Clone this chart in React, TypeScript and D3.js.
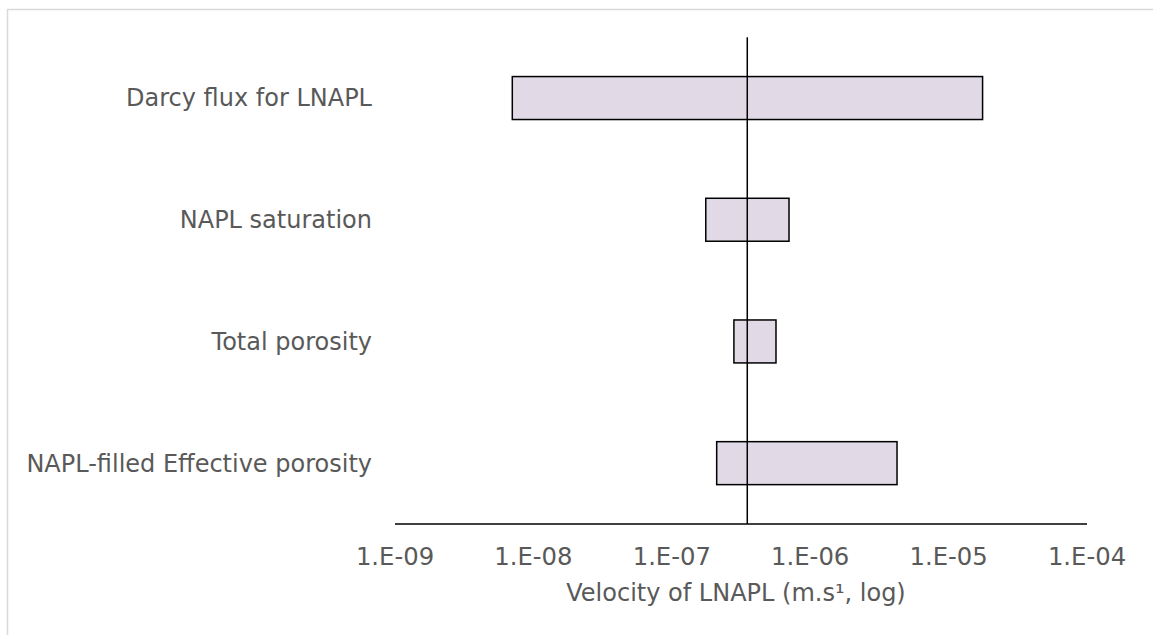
import React from "react";
import * as d3 from "d3";

const categories = [
  "Darcy flux for LNAPL",
  "NAPL saturation",
  "Total porosity",
  "NAPL-filled Effective porosity",
];
const lowValues = [7.04e-9, 1.76e-7, 2.81e-7, 2.11e-7];
const highValues = [1.76e-5, 7.03e-7, 5.66e-7, 4.24e-6];
const baseValue = 3.51e-7;
const tickValues = [1e-9, 1e-8, 1e-7, 1e-6, 1e-5, 1e-4];
const tickLabels = ["1.E-09", "1.E-08", "1.E-07", "1.E-06", "1.E-05", "1.E-04"];
const axisTitle = "Velocity of LNAPL (m.s\u00b9, log)";

export default function App() {
  const W = 1153;
  const H = 635;
  const left = 395;
  const right = 1087;
  const top = 37.2;
  const bottom = 524;
  const x = d3.scaleLog().domain([1e-9, 1e-4]).range([left, right]);
  const y = d3
    .scaleBand<string>()
    .domain(categories)
    .range([top, bottom])
    .paddingInner(0.647)
    .paddingOuter(0.3235);
  const font = "'DejaVu Sans', Verdana, sans-serif";
  const textColor = "#595959";
  return (
    <svg
      width={W}
      height={H}
      style={{ position: "absolute", left: 0, top: 0, background: "#fff" }}
    >
      <rect x={7.5} y={9.5} width={1160} height={640} fill="#fff" stroke="#d9d9d9" strokeWidth={1.5} />
      {categories.map((c, i) => {
        const x0 = x(lowValues[i]);
        const x1 = x(highValues[i]);
        return (
          <rect
            key={c}
            x={x0}
            y={y(c)}
            width={x1 - x0}
            height={y.bandwidth()}
            fill="#e1d9e6"
            stroke="#000"
            strokeWidth={1.5}
          />
        );
      })}
      {categories.map((c) => (
        <text
          key={"l" + c}
          x={372}
          y={(y(c) as number) + y.bandwidth() / 2}
          dy="0.35em"
          textAnchor="end"
          fontFamily={font}
          fontSize={24}
          fill={textColor}
        >
          {c}
        </text>
      ))}
      <line x1={x(baseValue)} x2={x(baseValue)} y1={top} y2={bottom} stroke="#000" strokeWidth={1.5} />
      <line x1={left} x2={right} y1={bottom} y2={bottom} stroke="#000" strokeWidth={1.5} />
      {tickValues.map((v, i) => (
        <text
          key={"t" + i}
          x={x(v)}
          y={556}
          dy="0.35em"
          textAnchor="middle"
          fontFamily={font}
          fontSize={24.3}
          fill={textColor}
        >
          {tickLabels[i]}
        </text>
      ))}
      <text
        x={736}
        y={593}
        dy="0.35em"
        textAnchor="middle"
        fontFamily={font}
        fontSize={24}
        fill={textColor}
      >
        {axisTitle}
      </text>
    </svg>
  );
}
